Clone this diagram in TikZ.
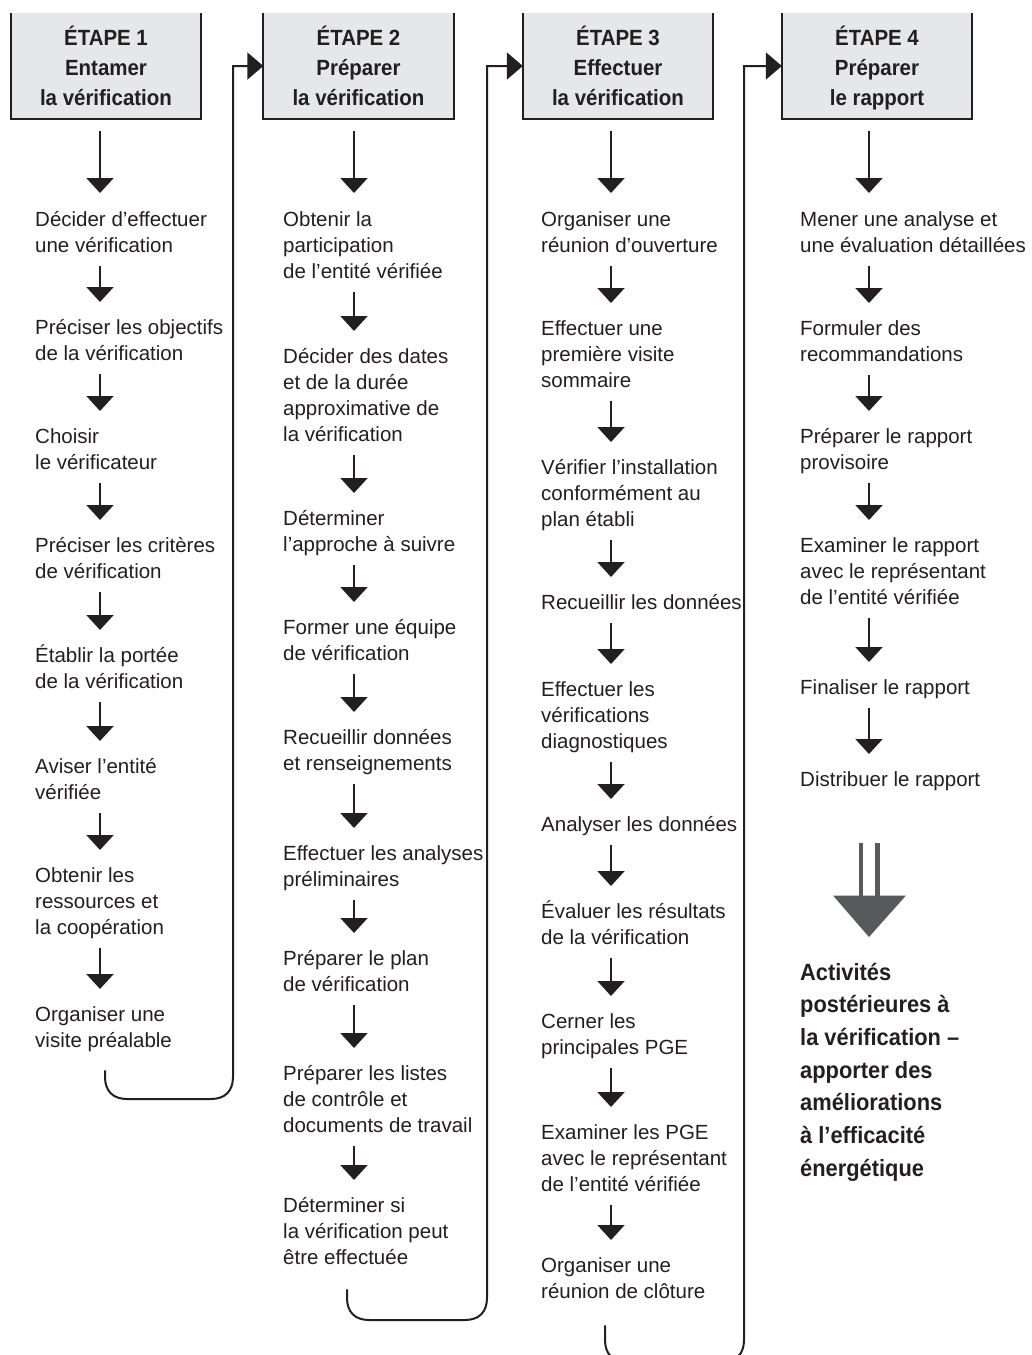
\documentclass[tikz,border=0pt]{standalone}
\usepackage{fontspec}
\setmainfont{Liberation Sans}
\newfontfamily\hdrfont{Liberation Sans}[FakeStretch=0.93]
\usetikzlibrary{arrows.meta,calc}
\definecolor{boxgray}{HTML}{E6E7E8}
\definecolor{ink}{HTML}{231F20}
\definecolor{bigarrow}{HTML}{58595B}
\newcommand\hdrtop{\rule{0pt}{27pt}}
\begin{document}
\begin{tikzpicture}[x=1pt,y=-1pt,
  txt/.style={anchor=north west, inner sep=0pt, align=left, font=\fontsize{20.5}{26}\selectfont, text=ink},
  post/.style={anchor=north west, inner sep=0pt, align=left, font=\hdrfont\bfseries\fontsize{23.5}{32.7}\selectfont, text=ink},
  hdr/.style={minimum width=190pt, minimum height=106pt, inner sep=0pt, fill=boxgray, align=center, font=\hdrfont\bfseries\fontsize{22}{30}\selectfont, text=ink},
  boxline/.style={line width=2.2pt, draw=ink},
  arr/.style={line width=2pt, draw=ink, -{Triangle[width=27pt,length=15pt]}, shorten <=6pt, shorten >=14pt},
  looparr/.style={line width=2pt, draw=ink, -{Triangle[width=27pt,length=16pt]}}]
\useasboundingbox (0,0) rectangle (1032,1355);
\fill[white] (0,0) rectangle (1032,1355);
\clip (0,0) rectangle (1032,1355);

% column arrow x positions
\coordinate (a1) at (100,0);
\coordinate (a2) at (354,0);
\coordinate (a3) at (611,0);
\coordinate (a4) at (869,0);

% headers
\node[hdr] (h1) at (106,66) {\hdrtop ÉTAPE 1\\Entamer\\la vérification\strut};
\node[hdr] (h2) at (358.5,66) {\hdrtop ÉTAPE 2\\Préparer\\la vérification\strut};
\node[hdr] (h3) at (618,66) {\hdrtop ÉTAPE 3\\Effectuer\\la vérification\strut};
\node[hdr] (h4) at (877,66) {\hdrtop ÉTAPE 4\\Préparer\\le rapport\strut};
\foreach \h in {h1,h2,h3,h4}
  \draw[boxline] (\h.north west) -- (\h.south west) -- (\h.south east) -- (\h.north east);

% column 1
\node[txt] (c1a) at (35,208) {\strut Décider d’effectuer\\une vérification\strut};
\node[txt] (c1b) at (35,316) {\strut Préciser les objectifs\\de la vérification\strut};
\node[txt] (c1c) at (35,425) {\strut Choisir\\le vérificateur\strut};
\node[txt] (c1d) at (35,534) {\strut Préciser les critères\\de vérification\strut};
\node[txt] (c1e) at (35,644) {\strut Établir la portée\\de la vérification\strut};
\node[txt] (c1f) at (35,755) {\strut Aviser l’entité\\vérifiée\strut};
\node[txt] (c1g) at (35,864) {\strut Obtenir les\\ressources et\\la coopération\strut};
\node[txt] (c1h) at (35,1003) {\strut Organiser une\\visite préalable\strut};

% column 2
\node[txt] (c2a) at (283,208) {\strut Obtenir la\\participation\\de l’entité vérifiée\strut};
\node[txt] (c2b) at (283,345) {\strut Décider des dates\\et de la durée\\approximative de\\la vérification\strut};
\node[txt] (c2c) at (283,507) {\strut Déterminer\\l’approche à suivre\strut};
\node[txt] (c2d) at (283,616) {\strut Former une équipe\\de vérification\strut};
\node[txt] (c2e) at (283,726) {\strut Recueillir données\\et renseignements\strut};
\node[txt] (c2f) at (283,842) {\strut Effectuer les analyses\\préliminaires\strut};
\node[txt] (c2g) at (283,947) {\strut Préparer le plan\\de vérification\strut};
\node[txt] (c2h) at (283,1062) {\strut Préparer les listes\\de contrôle et\\documents de travail\strut};
\node[txt] (c2i) at (283,1194) {\strut Déterminer si\\la vérification peut\\être effectuée\strut};

% column 3
\node[txt] (c3a) at (541,208) {\strut Organiser une\\réunion d’ouverture\strut};
\node[txt] (c3b) at (541,317) {\strut Effectuer une\\première visite\\sommaire\strut};
\node[txt] (c3c) at (541,456) {\strut Vérifier l’installation\\conformément au\\plan établi\strut};
\node[txt] (c3d) at (541,591) {\strut Recueillir les données\strut};
\node[txt] (c3e) at (541,678) {\strut Effectuer les\\vérifications\\diagnostiques\strut};
\node[txt] (c3f) at (541,813) {\strut Analyser les données\strut};
\node[txt] (c3g) at (541,900) {\strut Évaluer les résultats\\de la vérification\strut};
\node[txt] (c3h) at (541,1010) {\strut Cerner les\\principales PGE\strut};
\node[txt] (c3i) at (541,1121) {\strut Examiner les PGE\\avec le représentant\\de l’entité vérifiée\strut};
\node[txt] (c3j) at (541,1254) {\strut Organiser une\\réunion de clôture\strut};

% column 4
\node[txt] (c4a) at (800,208) {\strut Mener une analyse et\\une évaluation détaillées\strut};
\node[txt] (c4b) at (800,317) {\strut Formuler des\\recommandations\strut};
\node[txt] (c4c) at (800,425) {\strut Préparer le rapport\\provisoire\strut};
\node[txt] (c4d) at (800,534) {\strut Examiner le rapport\\avec le représentant\\de l’entité vérifiée\strut};
\node[txt] (c4e) at (800,676) {\strut Finaliser le rapport\strut};
\node[txt] (c4f) at (800,768) {\strut Distribuer le rapport\strut};
\node[post] (c4g) at (800,957) {\strut Activités\\postérieures à\\la vérification –\\apporter des\\améliorations\\à l’efficacité\\énergétique\strut};

% header arrows
\foreach \h/\n/\a in {h1/c1a/a1, h2/c2a/a2, h3/c3a/a3, h4/c4a/a4}
  \draw[arr, shorten <=12pt, shorten >=15pt] (\h.south -| \a) -- (\n.north -| \a);

% step arrows
\foreach \p/\q in {c1a/c1b, c1b/c1c, c1c/c1d, c1d/c1e, c1e/c1f, c1f/c1g, c1g/c1h}
  \draw[arr] (\p.south -| a1) -- (\q.north -| a1);
\foreach \p/\q in {c2a/c2b, c2b/c2c, c2c/c2d, c2d/c2e, c2e/c2f, c2f/c2g, c2g/c2h, c2h/c2i}
  \draw[arr] (\p.south -| a2) -- (\q.north -| a2);
\foreach \p/\q in {c3a/c3b, c3b/c3c, c3c/c3d, c3d/c3e, c3e/c3f, c3f/c3g, c3g/c3h, c3h/c3i, c3i/c3j}
  \draw[arr] (\p.south -| a3) -- (\q.north -| a3);
\foreach \p/\q in {c4a/c4b, c4b/c4c, c4c/c4d, c4d/c4e, c4e/c4f}
  \draw[arr] (\p.south -| a4) -- (\q.north -| a4);

% loops between columns
\coordinate (l1) at (105,0);
\coordinate (l2) at (347,0);
\coordinate (l3) at (605,0);
\draw[looparr] ($(c1h.south -| l1)+(0,15)$) -- (105,1077)
  .. controls (105,1091) and (113,1099) .. (127,1099) -- (211,1099)
  .. controls (225,1099) and (233,1091) .. (233,1077) -- (233,66) -- (h2.west);
\draw[looparr] ($(c2i.south -| l2)+(0,17)$) -- (347,1298)
  .. controls (347,1312) and (355,1320) .. (369,1320) -- (465,1320)
  .. controls (479,1320) and (487,1312) .. (487,1298) -- (487,66) -- (h3.west);
\draw[looparr] ($(c3j.south -| l3)+(0,19)$) -- (605,1340)
  .. controls (605,1354) and (613,1362) .. (627,1362) -- (722,1362)
  .. controls (736,1362) and (744,1354) .. (744,1340) -- (744,66) -- (h4.west);

% big arrow to post-verification activities
\fill[bigarrow] (858.5,843) rectangle (863,897);
\fill[bigarrow] (875,843) rectangle (879.5,897);
\fill[bigarrow] (833,895.5) -- (906,895.5) -- (869,937) -- cycle;
\end{tikzpicture}
\end{document}
